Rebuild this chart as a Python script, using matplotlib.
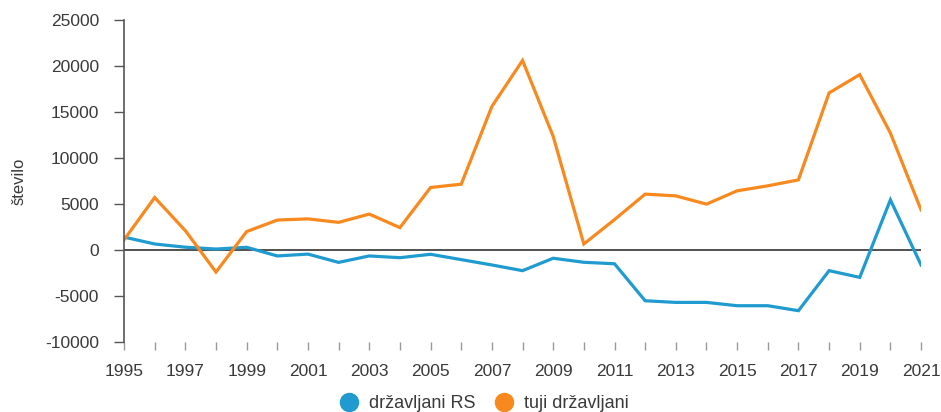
import numpy as np
import matplotlib
matplotlib.use("Agg")
from matplotlib import pyplot as plt
from matplotlib.lines import Line2D

plt.rcParams["font.family"] = ["Liberation Sans", "DejaVu Sans"]
plt.rcParams["axes.unicode_minus"] = False

years = list(range(1995, 2022))
drzavljani_rs = [1400, 650, 300, 100, 290, -650, -450, -1350, -650, -840,
                 -470, -1050, -1630, -2250, -900, -1340, -1500, -5520, -5700, -5700,
                 -6060, -6060, -6600, -2250, -2980, 5450, -1630]
tuji_drzavljani = [1100, 5700, 2100, -2400, 2000, 3250, 3380, 3000, 3900, 2430,
                   6790, 7150, 15600, 20600, 12350, 650, 3300, 6070, 5880, 4980,
                   6430, 6970, 7620, 17070, 19060, 12710, 4360]
series_labels = ["državljani RS", "tuji državljani"]
colors = ["#1f9bd0", "#f7891f"]
text_color = "#3a3a3a"

fig = plt.figure(figsize=(9.41, 4.12), dpi=100)
ax = fig.add_axes([0.1318, 0.170, 0.8470, 0.7815])

ax.plot(years, drzavljani_rs, color=colors[0], lw=2.3, solid_joinstyle="miter")
ax.plot(years, tuji_drzavljani, color=colors[1], lw=2.3, solid_joinstyle="miter")
ax.axhline(0, color="#333333", lw=1.2, zorder=1)

ax.set_xlim(1995, 2021)
ax.set_ylim(-10000, 25000)
ax.set_yticks(np.arange(-10000, 25001, 5000))
ax.set_xticks(years)
ax.set_xticklabels([str(y) if (y - 1995) % 2 == 0 else "" for y in years])

for s in ["top", "right", "bottom"]:
    ax.spines[s].set_visible(False)
ax.spines["left"].set_color("#555555")
ax.spines["left"].set_linewidth(1.2)
ax.tick_params(axis="y", direction="out", length=7, width=1, color="#555555",
               labelsize=12.5, labelcolor=text_color, pad=11)
ax.tick_params(axis="x", direction="out", length=6, width=1, color="#999999",
               labelsize=12.5, labelcolor=text_color, pad=10)
ax.set_ylabel("število", fontsize=12, color=text_color, labelpad=13)
ax.patch.set_visible(False)

handles = [Line2D([], [], marker="o", ls="", color=c, markersize=13) for c in colors]
fig.legend(handles, series_labels, loc="lower center", bbox_to_anchor=(0.51, -0.04),
           ncol=2, frameon=False, fontsize=13, handletextpad=0.1, columnspacing=0.6,
           labelcolor=text_color)

fig.savefig("out.png", dpi=100)
